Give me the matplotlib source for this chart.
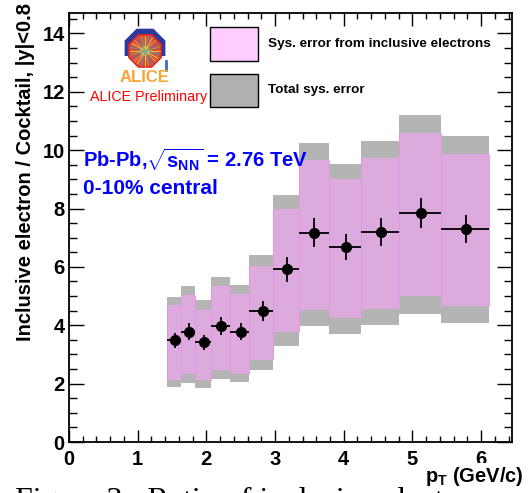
import matplotlib
matplotlib.use('Agg')
import matplotlib.pyplot as plt
from matplotlib.patches import Rectangle, RegularPolygon
from matplotlib.ticker import MultipleLocator
import numpy as np

# ---------------- data ----------------
bin_edges = [1.43, 1.63, 1.84, 2.07, 2.34, 2.62, 2.97, 3.35, 3.78, 4.25, 4.81, 5.42, 6.12]
pt = [1.55, 1.74, 1.97, 2.22, 2.50, 2.82, 3.18, 3.57, 4.03, 4.54, 5.12, 5.78]
ratio = [3.48, 3.78, 3.42, 3.98, 3.78, 4.48, 5.92, 7.17, 6.68, 7.20, 7.85, 7.30]
stat_err = [0.27, 0.30, 0.26, 0.30, 0.29, 0.34, 0.43, 0.50, 0.45, 0.47, 0.50, 0.47]
sys_incl_hi = [4.68, 5.02, 4.54, 5.35, 5.06, 6.03, 7.97, 9.68, 9.00, 9.72, 10.60, 9.88]
sys_incl_lo = [2.14, 2.32, 2.11, 2.48, 2.34, 2.80, 3.77, 4.53, 4.24, 4.57, 5.01, 4.65]
sys_tot_hi = [4.96, 5.33, 4.85, 5.67, 5.37, 6.40, 8.45, 10.23, 9.54, 10.30, 11.20, 10.47]
sys_tot_lo = [1.88, 2.02, 1.85, 2.16, 2.06, 2.48, 3.29, 3.97, 3.70, 4.00, 4.38, 4.08]

x_ticklabels = ['0', '1', '2', '3', '4', '5', '6']
y_ticklabels = ['0', '2', '4', '6', '8', '10', '12', '14']

# ---------------- style ----------------
plt.rcParams['font.family'] = ['Liberation Sans', 'DejaVu Sans']
plt.rcParams['font.weight'] = 'bold'
plt.rcParams['mathtext.fontset'] = 'custom'
plt.rcParams['mathtext.rm'] = 'Liberation Sans:bold'
plt.rcParams['mathtext.it'] = 'Liberation Sans:bold'
plt.rcParams['mathtext.bf'] = 'Liberation Sans:bold'
plt.rcParams['mathtext.sf'] = 'Liberation Sans:bold'

W, H = 531, 493
fig = plt.figure(figsize=(W / 100, H / 100), dpi=100)
fig.patch.set_facecolor('white')

# caption of the page (cut off at the bottom)
fig.text(15 / W, 1 - 509 / H, 'Figure 3:  Ratio of inclusive electron',
         family=['Liberation Serif', 'DejaVu Serif'], fontweight='normal',
         fontsize=23, ha='left', va='baseline', color='black', zorder=0)

ax = fig.add_axes([69 / W, 1 - 442 / H, 443 / W, 429 / H])
ax.set_facecolor('white')

gray_c = '#b4b4b4'
pink_c = '#dcaadc'
edges = np.array(bin_edges)
for i in range(len(pt)):
    w = edges[i + 1] - edges[i]
    ax.add_patch(Rectangle((edges[i], sys_tot_lo[i]), w, sys_tot_hi[i] - sys_tot_lo[i],
                           facecolor=gray_c, edgecolor='none', zorder=1))
for i in range(len(pt)):
    w = edges[i + 1] - edges[i]
    ax.add_patch(Rectangle((edges[i], sys_incl_lo[i]), w, sys_incl_hi[i] - sys_incl_lo[i],
                           facecolor=pink_c, edgecolor='none', zorder=2))
    ax.vlines([edges[i], edges[i + 1]], sys_incl_lo[i], sys_incl_hi[i],
              color='#e596e5', lw=0.7, zorder=2.5)

pt_a = np.array(pt)
xerr = [pt_a - edges[:-1], edges[1:] - pt_a]
ax.errorbar(pt, ratio, yerr=stat_err, xerr=xerr, fmt='o', color='black',
            ms=7, elinewidth=1.3, capsize=0, zorder=5)

ax.set_xlim(0, 6.45)
ax.set_ylim(0, 14.7)
ax.xaxis.set_major_locator(MultipleLocator(1))
ax.xaxis.set_minor_locator(MultipleLocator(0.2))
ax.yaxis.set_major_locator(MultipleLocator(2))
ax.yaxis.set_minor_locator(MultipleLocator(0.5))
ax.set_xticks(range(len(x_ticklabels)))
ax.set_xticklabels(x_ticklabels)
ax.set_yticks(range(0, 2 * len(y_ticklabels), 2))
ax.set_yticklabels(y_ticklabels)
ax.tick_params(which='both', direction='in', top=True, right=True, width=1,
               labelsize=14.5, colors='black')
ax.tick_params(axis='x', which='major', length=9, pad=6)
ax.tick_params(axis='x', which='minor', length=4.5)
ax.tick_params(axis='y', which='major', length=11, pad=3)
ax.tick_params(axis='y', which='minor', length=5.5)
for lab in ax.get_xticklabels() + ax.get_yticklabels():
    lab.set_fontweight('bold')
for s in ax.spines.values():
    s.set_linewidth(1.3)
    s.set_color('black')

# axis titles
fig.text(26 / W, 1 - 3 / H, 'Inclusive electron / Cocktail, |y|<0.8', rotation=90,
         ha='center', va='top', fontsize=14.5, fontweight='bold')
fig.text(524 / W, 1 - 476 / H, r'$\mathbf{p}_{\mathbf{T}}$ (GeV/c)', ha='right',
         va='center', fontsize=14.5, fontweight='bold',
         bbox=dict(facecolor='white', edgecolor='none', pad=1))

# legend boxes
ax.add_patch(Rectangle((141 / 443, (442 - 61) / 429), 48 / 443, 34 / 429,
                       transform=ax.transAxes, facecolor='#ffccff', edgecolor='black',
                       lw=1.0, zorder=6))
ax.add_patch(Rectangle((141 / 443, (442 - 107) / 429), 48 / 443, 33 / 429,
                       transform=ax.transAxes, facecolor='#b0b0b0', edgecolor='black',
                       lw=1.0, zorder=6))
ax.text(199 / 443, (442 - 44) / 429, 'Sys. error from inclusive electrons',
        transform=ax.transAxes, ha='left', va='center', fontsize=9.7, fontweight='bold')
ax.text(199 / 443, (442 - 90) / 429, 'Total sys. error',
        transform=ax.transAxes, ha='left', va='center', fontsize=9.7, fontweight='bold')

# collision system text
ax.text(14 / 443, (442 - 160) / 429, r'Pb-Pb,$\sqrt{\mathbf{s}_{\mathbf{NN}}}$ = 2.76 TeV',
        transform=ax.transAxes, ha='left', va='center', fontsize=14.5, fontweight='bold',
        color='#0000ff')
ax.text(14 / 443, (442 - 188) / 429, '0-10% central',
        transform=ax.transAxes, ha='left', va='center', fontsize=15, fontweight='bold',
        color='#0000ff')

# ALICE logo
lax = fig.add_axes([120 / W, 1 - 73 / H, 50 / W, 46 / H])
lax.set_xlim(-1.3, 1.3)
lax.set_ylim(-1.25, 1.25)
lax.set_aspect('equal')
lax.axis('off')
lax.add_patch(RegularPolygon((0, 0.05), 8, radius=1.2, orientation=np.pi / 8,
                             facecolor='#2b3a9e', edgecolor='none'))
lax.add_patch(Rectangle((-1.4, -1.4), 2.8, 1.1, facecolor='white', edgecolor='none'))
lax.add_patch(RegularPolygon((0, -0.05), 8, radius=0.95, orientation=np.pi / 8,
                             facecolor='#d8503a', edgecolor='#e02020', lw=1))
ray_cols = ['#f5d040', '#70c060', '#5070d0', '#f0a030', '#e0e040', '#40a0d0']
for k, a in enumerate(np.linspace(0, 2 * np.pi, 24, endpoint=False)):
    lax.plot([0, 0.8 * np.cos(a)], [-0.05, -0.05 + 0.8 * np.sin(a)],
             color=ray_cols[k % len(ray_cols)], lw=0.6)
lax.add_patch(plt.Circle((0, -0.05), 0.22, color='#f7c040'))
lax.plot([1.15, 1.15], [-0.6, -1.1], color='#3a6ad0', lw=2)

fig.text(145 / W, 1 - 78 / H, 'ALICE', ha='center', va='center', fontsize=12,
         fontweight='bold', color='#f7a533')
fig.text(90 / W, 1 - 97 / H, 'ALICE Preliminary', ha='left', va='center', fontsize=10.3,
         fontweight='normal', color='#ff0000')

fig.savefig('out.png', dpi=100, facecolor='white')
